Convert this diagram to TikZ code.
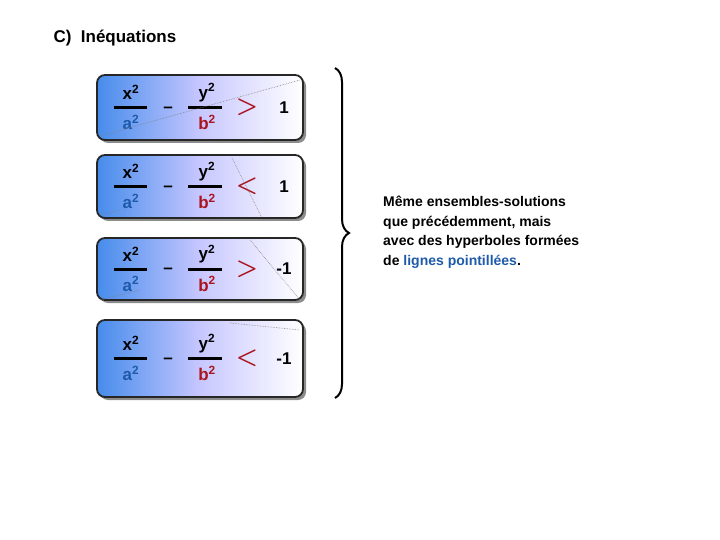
\documentclass[tikz,border=0pt]{standalone}
\usepackage{fontspec}
\setmainfont{Liberation Sans}
\usetikzlibrary{decorations.pathreplacing}
\definecolor{eqblue}{RGB}{30,90,170}
\definecolor{eqred}{RGB}{170,20,30}
\definecolor{boxblue}{RGB}{70,140,235}
\tikzset{
 eqbox/.style={draw=black!85,line width=1.8pt,rounded corners=8pt,left color=boxblue,right color=white,middle color=blue!22},
 shadowbox/.style={fill=black!45,rounded corners=8pt},
 txt/.style={font=\bfseries\fontsize{17}{19}\selectfont,inner sep=0pt},
 bar/.style={line width=3pt},
 hint/.style={gray,densely dotted,line width=0.6pt}
}
\begin{document}
\begin{tikzpicture}[x=1pt,y=-1pt]
\useasboundingbox (0,0) rectangle (720,540);
\node[anchor=west,font=\bfseries\fontsize{17}{19}\selectfont] (title) at (50,38) {C)\ \ Inéquations};
\foreach \i/\top/\bot/\sgn/\num in {1/75/140/>/1,2/155/218/</1,3/238/300/>/-1,4/320/397/</-1}{
 \fill[shadowbox] (100,\top+3) rectangle (306,\bot+3);
 \draw[eqbox] (97,\top) rectangle (303,\bot);
 \pgfmathsetmacro{\m}{(\top+\bot)/2}
 \node[txt] (x\i) at (131,\m-15) {x\textsuperscript{2}};
 \node[txt,text=eqblue] (a\i) at (131,\m+15) {a\textsuperscript{2}};
 \draw[bar] (114,\m) -- (147,\m);
 \node[txt] (mi\i) at (168,\m+2) {--};
 \node[txt] (y\i) at (207,\m-15) {y\textsuperscript{2}};
 \node[txt,text=eqred] (b\i) at (207,\m+15) {b\textsuperscript{2}};
 \draw[bar] (188,\m) -- (222,\m);
 \node[txt,text=eqred,font=\boldmath\fontsize{24}{24}\selectfont] (s\i) at (247,\m) {$\sgn$};
 \node[txt] (n\i) at (284,\m) {\num};
}
\draw[hint] (100,136) -- (300,80);
\draw[hint] (232,158) -- (262,218);
\draw[hint] (100,215) -- (120,210);
\draw[hint] (250,240) -- (300,300);
\draw[hint] (100,300) -- (140,290);
\draw[hint] (230,323) -- (300,330);
\draw[line width=2pt,decorate,decoration={brace,amplitude=14pt}] (335,68) -- (335,398);
\node[anchor=north west,align=left,inner sep=0pt,font=\bfseries\fontsize{14}{19.5}\selectfont] (txt) at (383,196)
 {Même ensembles-solutions\\que précédemment, mais\\avec des hyperboles formées\\de \textcolor{eqblue}{lignes pointillées}.};
\end{tikzpicture}
\end{document}
